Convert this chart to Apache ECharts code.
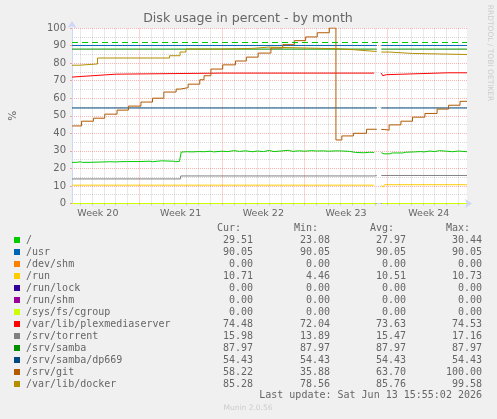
<!DOCTYPE html>
<html>
<head>
<meta charset="utf-8">
<script src="https://cdn.jsdelivr.net/npm/echarts@6/dist/echarts.min.js"></script>
<style>
  html, body { margin: 0; padding: 0; background: #f0f0f0; }
  #chart { width: 497px; height: 419px; }
</style>
</head>
<body>
<div id="chart"></div>
<script>
// x values are days, 0 = Monday that starts week 21
const XMIN = -5.69
const XMAX = 27.73
const weekMids = [-3.5, 3.5, 10.5, 17.5, 24.5]
const weekNames = ['Week 20', 'Week 21', 'Week 22', 'Week 23', 'Week 24']
const weekStarts = [0, 7, 14, 21]
const rootWarn = 92

const names = ['/', '/usr', '/dev/shm', '/run', '/run/lock', '/run/shm', '/sys/fs/cgroup',
  '/var/lib/plexmediaserver', '/srv/torrent', '/srv/samba', '/srv/samba/dp669', '/srv/git', '/var/lib/docker']
const colors = ['#00cc00', '#0066b3', '#ff8000', '#ffcc00', '#330099', '#990099', '#ccff00',
  '#ff0000', '#808080', '#008f00', '#00487d', '#b35a00', '#b38f00']
const curVals = [29.51, 90.05, 0, 10.71, 0, 0, 0, 74.48, 15.98, 87.97, 54.43, 58.22, 85.28]
const minVals = [23.08, 90.05, 0, 4.46, 0, 0, 0, 72.04, 13.89, 87.97, 54.43, 35.88, 78.56]
const avgVals = [27.97, 90.05, 0, 10.51, 0, 0, 0, 73.63, 15.47, 87.97, 54.43, 63.70, 85.76]
const maxVals = [30.44, 90.05, 0, 10.73, 0, 0, 0, 74.53, 17.16, 87.97, 54.43, 100.00, 99.58]

const rootData = [[-5.69,23.4],[-5.2,23.5],[-5.0,23.8],[-4.8,23.4],[-4.0,23.5],[-3.5,23.6],[-2.9,23.7],
  [-2.5,23.8],[-2.0,23.7],[-1.9,24.3],[-1.7,23.8],[-1.0,23.9],[-0.9,24.4],[-0.7,23.9],[0.0,23.9],[0.9,24.1],
  [1.1,23.8],[1.5,24.1],[1.9,24.3],[2.0,23.9],[2.9,24.1],[3.1,23.8],[3.4,24.0],[3.55,29.3],[4.0,29.5],[4.5,29.4],
  [5.0,29.6],[5.5,29.5],[6.0,29.8],[6.3,29.4],[7.0,29.8],[7.5,29.6],[8.0,30.1],[8.5,29.7],[9.0,30.0],[9.6,29.5],
  [10.0,29.9],[10.5,29.6],[11.0,30.2],[11.4,29.6],[12.0,29.9],[12.6,30.3],[13.0,29.7],[13.5,30.0],[14.0,29.8],
  [14.6,30.1],[15.0,29.9],[15.5,30.0],[16.0,29.8],[16.7,30.0],[17.2,29.9],[17.8,29.7],[18.3,29.1],[19.0,28.9],
  [19.5,29.2],[19.87,29.1],[20.1,null],[20.48,29.0],[20.7,28.3],[21.2,28.3],[21.4,28.8],[22.3,28.8],[22.5,29.2],
  [23.3,29.4],[23.8,29.6],[24.1,29.4],[24.6,29.9],[25.0,29.6],[25.4,30.1],[26.0,29.8],[26.5,29.5],[27.0,29.9],[27.73,29.5]]
const usrData = [[-5.69,90.05],[19.87,90.05],[20.1,null],[20.48,90.05],[27.73,90.05]]
const zeroData = [[-5.69,0],[19.87,0],[20.1,null],[20.48,0],[27.73,0]]
const runData = [[-5.69,10.45],[19.87,10.45],[20.1,null],[20.48,10.45],[20.62,9.3],[20.75,10.71],[27.73,10.71]]
const plexData = [[-5.69,72.04],[-1.94,73.7],[6.98,74.3],[19.87,74.3],[20.1,null],[20.48,74.3],[20.6,72.8],
  [20.9,73.4],[26.12,74.48],[27.73,74.48]]
const torrentData = [[-5.69,14.0],[3.5,15.7],[19.87,15.9],[20.1,null],[20.48,15.98],[27.73,15.98]]
const sambaData = [[-5.69,87.97],[19.87,87.97],[20.1,null],[20.48,87.97],[27.73,87.97]]
const dp669Data = [[-5.69,54.43],[19.87,54.43],[20.1,null],[20.48,54.43],[27.73,54.43]]
const gitData = [[-5.69,44.2],[-4.88,46.9],[-3.88,48.6],[-2.92,50.9],[-1.88,53.2],[-0.92,55.5],[0.14,57.8],
  [1.12,60.0],[2.08,63.5],[3.12,65.2],[3.48,66.0],[4.14,68.0],[5.12,70.5],[5.48,72.8],[6.06,76.6],[7.06,79.0],
  [8.14,81.2],[9.06,83.4],[10.06,85.7],[11.14,88.6],[12.14,90.5],[13.12,92.8],[14.08,94.9],[15.06,97.3],
  [16.08,100],[16.64,36.2],[17.14,38.5],[18.12,40.0],[19.23,42.3],[19.87,42.3],[20.1,null],[20.48,42.2],
  [20.72,41.8],[21.14,44.8],[22.14,46.9],[23.12,49.2],[24.17,51.3],[25.2,53.8],[26.17,56.0],[27.14,58.2],[27.73,58.2]]
const dockerData = [[-5.69,78.8],[-5.11,79.5],[-3.53,82.9],[2.56,84.2],[3.45,86.3],[3.95,88.0],[6.98,88.4],
  [9.64,89.1],[10.89,88.2],[16.64,87.6],[18.23,86.7],[19.87,86.7],[20.1,null],[20.48,86.3],[21.14,85.5],
  [23.12,84.9],[27.73,84.9]]

const seriesData = [rootData, usrData, zeroData, runData, zeroData, zeroData, zeroData,
  plexData, torrentData, sambaData, dp669Data, gitData, dockerData]
const stepped = [false, true, true, false, true, true, true, false, true, true, true, true, true]

const chart = echarts.init(document.getElementById('chart'), null, { renderer: 'canvas' })

const dayLines = []
for (let d = Math.ceil(XMIN); d <= Math.floor(XMAX); d++) {
  const major = weekStarts.indexOf(d) >= 0
  dayLines.push({
    xAxis: d,
    lineStyle: { color: major ? 'rgba(255,0,0,0.35)' : 'rgba(128,128,128,0.35)', type: [1, 1], width: 1 }
  })
}

const series = [{
  name: 'grid',
  type: 'line',
  data: [[XMIN, null]],
  z: 1,
  silent: true,
  markLine: { silent: true, symbol: 'none', label: { show: false }, animation: false, data: dayLines }
}]
names.forEach((n, i) => {
  const s = {
    name: n,
    type: 'line',
    data: seriesData[i],
    step: stepped[i] ? 'end' : false,
    showSymbol: false,
    connectNulls: false,
    z: 3,
    lineStyle: { color: colors[i], width: 1 },
    itemStyle: { color: colors[i] }
  }
  if (i === 0) {
    s.markLine = {
      silent: true, symbol: 'none', label: { show: false }, animation: false,
      lineStyle: { color: '#00cc00', type: [6, 4], width: 1 },
      data: [{ yAxis: rootWarn }]
    }
  }
  series.push(s)
})

// legend table
const mono = "'DejaVu Sans Mono', monospace"
const colRight = [253, 330, 406, 482]
const headers = ['Cur:', 'Min:', 'Avg:', 'Max:']
const graphic = []
headers.forEach((h, j) => {
  graphic.push({ type: 'text', x: colRight[j] - 12, y: 228,
    style: { text: h, font: '10px ' + mono, fill: '#666', align: 'right', verticalAlign: 'middle' } })
})
names.forEach((n, i) => {
  const y = 240 + 12 * i
  graphic.push({ type: 'rect', shape: { x: 14, y: y - 3, width: 6, height: 6 }, style: { fill: colors[i] } })
  graphic.push({ type: 'text', x: 26, y: y,
    style: { text: n, font: '10px ' + mono, fill: '#666', verticalAlign: 'middle' } })
  ;[curVals, minVals, avgVals, maxVals].forEach((arr, j) => {
    graphic.push({ type: 'text', x: colRight[j], y: y,
      style: { text: arr[i].toFixed(2), font: '10px ' + mono, fill: '#666', align: 'right', verticalAlign: 'middle' } })
  })
})
graphic.push({ type: 'text', x: 482, y: 395,
  style: { text: 'Last update: Sat Jun 13 15:55:02 2026', font: '10px ' + mono, fill: '#666', align: 'right', verticalAlign: 'middle' } })
graphic.push({ type: 'text', x: 248, y: 408,
  style: { text: 'Munin 2.0.56', font: "7.5px 'DejaVu Sans'", fill: '#cccccc', align: 'center', verticalAlign: 'middle' } })
graphic.push({ type: 'text', x: 490, y: 53, rotation: -Math.PI / 2,
  style: { text: 'RRDTOOL / TOBI OETIKER', font: "7.5px 'DejaVu Sans'", fill: '#cccccc', align: 'center', verticalAlign: 'middle' } })
graphic.push({ type: 'text', x: 248, y: 19,
  style: { text: 'Disk usage in percent - by month', font: "12.6px 'DejaVu Sans'", fill: '#666', align: 'center', verticalAlign: 'middle' } })

chart.setOption({
  animation: false,
  backgroundColor: '#f0f0f0',
  textStyle: { fontFamily: 'DejaVu Sans' },
  grid: { left: 66, right: 30, top: 28, bottom: 215.5, show: true, backgroundColor: '#ffffff', borderWidth: 0 },
  xAxis: {
    type: 'value', min: XMIN, max: XMAX,
    axisLine: { onZero: false, lineStyle: { color: '#cfd6f8' }, symbol: ['none', 'arrow'], symbolSize: [7, 7], symbolOffset: [0, 5] },
    splitLine: { show: false },
    axisTick: { show: true, length: 2, customValues: dayLines.map(d => d.xAxis), lineStyle: { color: '#cccccc' } },
    axisLabel: {
      customValues: weekMids, color: '#666', fontSize: 9.5, margin: 5,
      formatter: v => weekNames[weekMids.indexOf(v)]
    }
  },
  yAxis: {
    type: 'value', min: 0, max: 100, interval: 10,
    name: '%', nameLocation: 'middle', nameGap: 53, nameTextStyle: { color: '#666', fontSize: 10.5 },
    axisLine: { show: true, onZero: false, lineStyle: { color: '#cfd6f8' }, symbol: ['none', 'arrow'], symbolSize: [7, 7], symbolOffset: [0, 7] },
    axisTick: { show: true, length: 2, lineStyle: { color: 'rgba(255,0,0,0.35)' } },
    axisLabel: { color: '#666', fontSize: 10, margin: 6 },
    splitLine: { lineStyle: { color: 'rgba(255,0,0,0.3)', type: [1, 1] } },
    minorTick: { show: false, splitNumber: 2 },
    minorSplitLine: { show: true, lineStyle: { color: 'rgba(128,128,128,0.3)', type: [1, 1] } }
  },
  graphic: graphic,
  series: series
})
</script>
</body>
</html>
